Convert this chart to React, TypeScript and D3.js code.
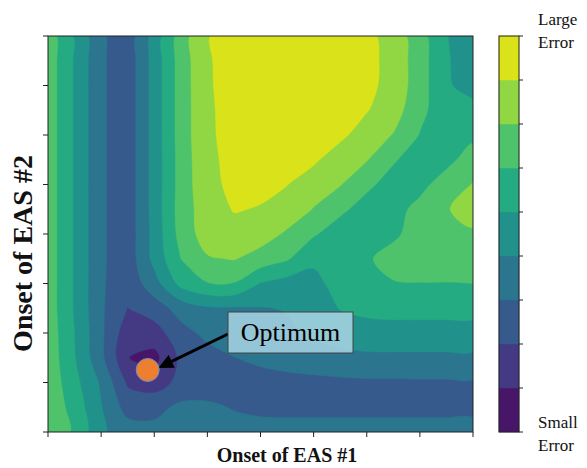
import React from 'react';
import * as d3 from 'd3';

// error surface, in "band" units (0 = darkest, 8+ = yellow)
// rows go top -> bottom, columns left -> right, 17 x 17 samples over the plot area
const errorGrid: number[][] = [
  [6.55, 4.9, 3.15, 2.4, 4.4, 6.5, 7.95, 8.4, 8.6, 8.7, 8.7, 8.6, 8.25, 7.6, 6.4, 5.05, 4.2],
  [6.55, 4.9, 3.15, 2.4, 4.4, 6.45, 7.9, 8.4, 8.6, 8.7, 8.7, 8.6, 8.3, 7.65, 6.45, 5.1, 4.45],
  [6.55, 4.9, 3.15, 2.4, 4.4, 6.45, 7.88, 8.4, 8.6, 8.7, 8.7, 8.55, 8.25, 7.65, 6.45, 5.08, 4.75],
  [6.55, 4.9, 3.15, 2.4, 4.4, 6.45, 7.85, 8.35, 8.55, 8.6, 8.6, 8.5, 8.05, 7.45, 6.25, 5.4, 5.2],
  [6.55, 4.9, 3.15, 2.4, 4.4, 6.45, 7.85, 8.3, 8.5, 8.5, 8.45, 8.2, 7.55, 6.95, 5.95, 5.5, 5.8],
  [6.55, 4.9, 3.15, 2.4, 4.4, 6.4, 7.8, 8.25, 8.4, 8.3, 8.15, 7.5, 7.05, 6.1, 5.5, 5.75, 6.4],
  [6.55, 4.9, 3.15, 2.4, 4.4, 6.4, 7.75, 8.2, 8.2, 8.02, 7.5, 7.05, 6.2, 5.6, 5.75, 6.4, 7.05],
  [6.55, 4.9, 3.15, 2.4, 4.4, 6.45, 7.55, 8.05, 7.95, 7.6, 6.95, 6.2, 5.6, 5.7, 6.25, 6.95, 7.3],
  [6.55, 4.9, 3.15, 2.4, 4.35, 6.35, 7.5, 7.7, 7.45, 6.85, 6.1, 5.5, 5.3, 5.85, 6.35, 6.7, 6.9],
  [6.55, 4.9, 3.15, 2.4, 4.3, 6.0, 6.9, 7.05, 6.6, 6.1, 5.2, 5.1, 5.9, 6.3, 6.4, 6.45, 6.45],
  [6.55, 4.9, 3.15, 2.3, 3.6, 5.3, 5.95, 5.95, 4.95, 4.6, 4.7, 5.4, 5.75, 5.95, 5.98, 5.97, 6.0],
  [6.55, 4.9, 3.15, 1.98, 2.5, 3.4, 3.85, 3.9, 3.95, 4.05, 4.4, 5.05, 5.25, 5.3, 5.3, 5.3, 5.3],
  [6.6, 5.0, 3.2, 1.4, 1.55, 2.65, 3.25, 3.45, 3.6, 3.85, 4.15, 4.45, 4.6, 4.65, 4.65, 4.65, 4.65],
  [6.65, 5.05, 3.25, 1.02, 0.7, 2.2, 2.6, 2.98, 3.2, 3.4, 3.55, 3.7, 3.8, 3.8, 3.8, 3.8, 3.8],
  [6.7, 5.3, 3.85, 1.85, 1.5, 2.3, 2.55, 2.6, 2.65, 2.7, 2.75, 2.8, 2.85, 2.85, 2.88, 2.88, 2.88],
  [6.75, 5.6, 4.05, 2.6, 2.7, 3.2, 3.15, 2.95, 2.75, 2.65, 2.65, 2.65, 2.65, 2.65, 2.65, 2.65, 2.65],
  [6.7, 5.86, 4.14, 3.5, 3.3, 3.2, 3.2, 3.3, 3.4, 3.5, 3.5, 3.5, 3.5, 3.5, 3.5, 3.5, 3.5],
];

const levels = [0, 1, 2, 3, 4, 5, 6, 7, 8];
const axisTicks = [0, 1, 2, 3, 4, 5, 6, 7, 8];
const optimum = { x: 1.877, y: 1.253, label: 'Optimum' };
const xLabel = 'Onset of EAS #1';
const yLabel = 'Onset of EAS #2';
const topLabel = ['Large', 'Error'];
const bottomLabel = ['Small', 'Error'];

const serif = '"Liberation Serif", "Times New Roman", serif';

const App: React.FC = () => {
  const width = 587;
  const height = 468;
  const plot = { left: 48, top: 36, right: 473, bottom: 432 };
  const cb = { left: 499, right: 519 };

  const ny = errorGrid.length;
  const nx = errorGrid[0].length;
  const contours = d3.contours().size([nx, ny]).thresholds(levels)(errorGrid.flat());

  // grid sample i sits at contour coordinate i + 0.5
  const gx = d3.scaleLinear().domain([0.5, nx - 0.5]).range([plot.left, plot.right]);
  const gy = d3.scaleLinear().domain([0.5, ny - 0.5]).range([plot.top, plot.bottom]);

  const x = d3.scaleLinear().domain([0, 8]).range([plot.left, plot.right]);
  const y = d3.scaleLinear().domain([0, 8]).range([plot.bottom, plot.top]);
  const cbY = d3.scaleLinear().domain([0, levels.length]).range([plot.bottom, plot.top]);

  const color = (k: number) => d3.interpolateViridis((k + 0.5) / levels.length);

  const ring = d3.line<number[]>()
    .x(p => gx(p[0]))
    .y(p => gy(p[1]))
    .curve(d3.curveCatmullRomClosed.alpha(0.5));

  const bandPath = (geom: d3.ContourMultiPolygon) =>
    geom.coordinates
      .map(poly => poly.map(r => ring(r.slice(0, -1) as number[][]) || '').join(''))
      .join('');

  // annotation
  const px = x(optimum.x);
  const py = y(optimum.y);
  const box = { x: 228, y: 312, w: 125, h: 41 };
  const tail = { x: box.x, y: 334 };
  const tip = { x: px + 10.5, y: py - 2 };
  const dx = tip.x - tail.x;
  const dy = tip.y - tail.y;
  const len = Math.hypot(dx, dy);
  const ux = dx / len;
  const uy = dy / len;
  const headLen = 15;
  const headW = 7;
  const bx = tip.x - ux * headLen;
  const by = tip.y - uy * headLen;
  const head = [
    [tip.x, tip.y],
    [bx - uy * headW, by + ux * headW],
    [bx + uy * headW, by - ux * headW],
  ];

  return (
    <svg width={width} height={height} style={{ position: 'absolute', left: 0, top: 0, background: '#fff' }}>
      <defs>
        <clipPath id="plot-clip">
          <rect x={plot.left} y={plot.top} width={plot.right - plot.left} height={plot.bottom - plot.top} />
        </clipPath>
      </defs>

      <g clipPath="url(#plot-clip)">
        <rect x={plot.left} y={plot.top} width={plot.right - plot.left} height={plot.bottom - plot.top} fill={color(0)} />
        {contours.slice(1).map((c, i) => (
          <path key={i} d={bandPath(c)} fill={color(i + 1)} stroke={color(i + 1)} strokeWidth={0.5} />
        ))}
      </g>

      {/* frame and ticks */}
      <rect x={plot.left} y={plot.top} width={plot.right - plot.left} height={plot.bottom - plot.top}
        fill="none" stroke="#222" strokeWidth={1} />
      {axisTicks.map(t => (
        <line key={'xt' + t} x1={x(t)} x2={x(t)} y1={plot.bottom} y2={plot.bottom + 5} stroke="#222" strokeWidth={1} />
      ))}
      {axisTicks.map(t => (
        <line key={'yt' + t} x1={plot.left - 5} x2={plot.left} y1={y(t)} y2={y(t)} stroke="#222" strokeWidth={1} />
      ))}

      {/* optimum annotation */}
      <line x1={tail.x} y1={tail.y} x2={bx} y2={by} stroke="#000" strokeWidth={3} />
      <polygon points={head.map(p => p.join(',')).join(' ')} fill="#000" />
      <circle cx={px} cy={py} r={11.5} fill="#ee7f30" stroke="#6a8fc5" strokeWidth={1} />
      <rect x={box.x} y={box.y} width={box.w} height={box.h} fill="#add8e6" fillOpacity={0.82} stroke="#444" strokeWidth={1} />
      <text x={box.x + box.w / 2} y={box.y + 29} textAnchor="middle" fontFamily={serif} fontSize={26} fill="#000">
        {optimum.label}
      </text>

      {/* axis labels */}
      <text x={287} y={462} textAnchor="middle" fontFamily={serif} fontWeight="bold" fontSize={20} fill="#111">
        {xLabel}
      </text>
      <text transform="translate(32,253.5) rotate(-90)" textAnchor="middle" fontFamily={serif} fontWeight="bold" fontSize={28} fill="#111">
        {yLabel}
      </text>

      {/* colorbar */}
      {levels.map(k => (
        <rect key={'cb' + k} x={cb.left} y={cbY(k + 1)} width={cb.right - cb.left} height={cbY(k) - cbY(k + 1)}
          fill={color(k)} stroke={color(k)} strokeWidth={0.5} />
      ))}
      <rect x={cb.left} y={plot.top} width={cb.right - cb.left} height={plot.bottom - plot.top} fill="none" stroke="#222" strokeWidth={1} />
      {d3.range(levels.length + 1).map(k => (
        <line key={'cbt' + k} x1={cb.right} x2={cb.right + 4} y1={cbY(k)} y2={cbY(k)} stroke="#222" strokeWidth={1} />
      ))}
      <text fontFamily={serif} fontSize={17} fill="#111">
        <tspan x={538} y={25}>{topLabel[0]}</tspan>
        <tspan x={538} y={48}>{topLabel[1]}</tspan>
      </text>
      <text fontFamily={serif} fontSize={17} fill="#111">
        <tspan x={538} y={428}>{bottomLabel[0]}</tspan>
        <tspan x={538} y={451}>{bottomLabel[1]}</tspan>
      </text>
    </svg>
  );
};

export default App;
